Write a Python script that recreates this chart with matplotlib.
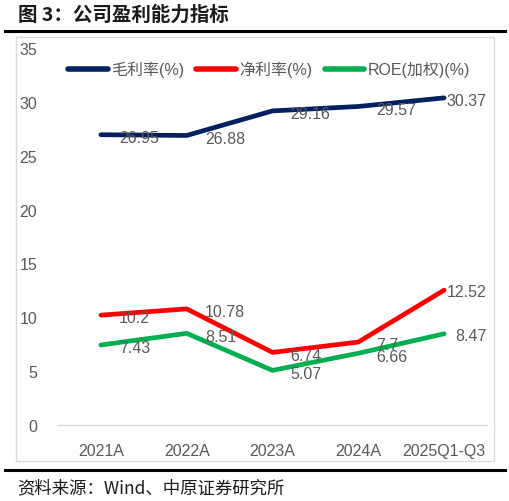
import matplotlib
matplotlib.use('Agg')
import matplotlib.pyplot as plt
from matplotlib.lines import Line2D
from matplotlib.patches import Rectangle

plt.rcParams['font.family'] = ['Liberation Sans', 'Noto Sans CJK SC', 'DejaVu Sans']

# data
years = ['2021A', '2022A', '2023A', '2024A', '2025Q1-Q3']
gross_margin = [26.95, 26.88, 29.16, 29.57, 30.37]
net_margin = [10.2, 10.78, 6.74, 7.7, 12.52]
roe = [7.43, 8.51, 5.07, 6.66, 8.47]
series_names = ['毛利率(%)', '净利率(%)', 'ROE(加权)(%)']
series_colors = ['#002060', '#FF0000', '#00B050']
y_ticks = [0, 5, 10, 15, 20, 25, 30, 35]

text_gray = '#595959'
fs = 11.5

fig = plt.figure(figsize=(5.10, 5.02), dpi=100)
ax = fig.add_axes([58 / 510, 1 - 426 / 502, 429 / 510, 377 / 502])

x = list(range(len(years)))
all_series = [gross_margin, net_margin, roe]
for vals, name, col in zip(all_series, series_names, series_colors):
    ax.plot(x, vals, color=col, lw=3.4, solid_capstyle='round',
            solid_joinstyle='round', label=name, zorder=3)

# data labels, last point squeezed to fit like the original
last_offsets = [(2, -2), (2, -1), (8, -1.5)]
for vals, lo in zip(all_series, last_offsets):
    for i, v in enumerate(vals):
        off = (13, -2) if i < len(vals) - 1 else lo
        ax.annotate(f'{v:g}', xy=(i, v), xytext=off, textcoords='offset points',
                    ha='left', va='center', fontsize=fs, color=text_gray, zorder=4)

ax.set_xlim(-0.5, len(years) - 0.5)
ax.set_ylim(0, 35)
ax.set_yticks(y_ticks)
ax.set_xticks(x)
ax.set_xticklabels(years)
ax.tick_params(axis='both', length=0, labelsize=fs, labelcolor=text_gray)
ax.tick_params(axis='y', pad=15)
ax.tick_params(axis='x', pad=13)
for s in ['top', 'right', 'left']:
    ax.spines[s].set_visible(False)
ax.spines['bottom'].set_color('#D9D9D9')
ax.spines['bottom'].set_linewidth(1)

leg = ax.legend(loc='center', bbox_to_anchor=(0.492, 0.944), ncol=3, frameon=False,
                fontsize=fs, handlelength=2.5, handletextpad=0.2, columnspacing=0.75,
                borderaxespad=0)
for t in leg.get_texts():
    t.set_color(text_gray)
for h in leg.get_lines():
    h.set_linewidth(4)

# chart frame
fig.patches.append(Rectangle((16 / 510, 1 - 462 / 502), (494 - 16) / 510, (462 - 38) / 502,
                             transform=fig.transFigure, fill=False, edgecolor='#D9D9D9', lw=1))

# title and rules
fig.text(18 / 510, 1 - 15 / 502, '图 3：公司盈利能力指标', fontsize=14, fontweight='bold',
         family=['Noto Sans CJK SC', 'DejaVu Sans'], color='#1a1a1a', va='center', ha='left')
fig.add_artist(Line2D([5 / 510, 505 / 510], [1 - 31.5 / 502] * 2, color='black', lw=2.2))
fig.add_artist(Line2D([5 / 510, 505 / 510], [1 - 471 / 502] * 2, color='black', lw=2.2))
fig.text(17 / 510, 1 - 488 / 502, '资料来源：Wind、中原证券研究所', fontsize=12.5,
         family=['Noto Sans CJK SC', 'DejaVu Sans'], color='#1a1a1a', va='center', ha='left')

fig.savefig('out.png', dpi=100)
